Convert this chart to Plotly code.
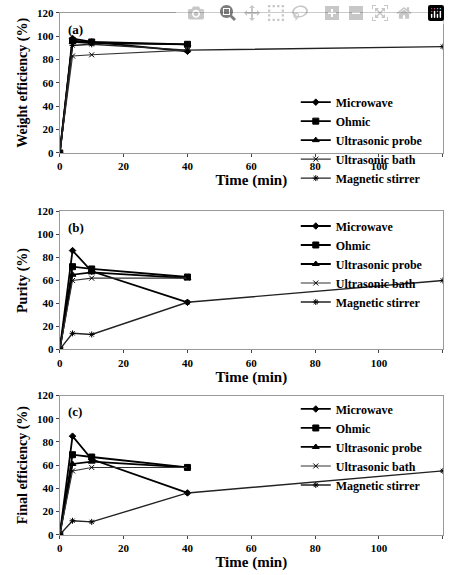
import plotly.graph_objects as go

# times (min)
t_short = [0, 4, 10, 40]
t_long = [0, 4, 10, 40, 120]

names = ["Microwave", "Ohmic", "Ultrasonic probe", "Ultrasonic bath", "Magnetic stirrer"]

# (a) weight efficiency
weight_microwave = [0, 98, 95, 87]
weight_ohmic = [0, 96, 95, 93]
weight_probe = [0, 95, 94, 93]
weight_bath = [0, 83, 84, 88]
weight_magnetic = [0, 92, 93, 88, 91]

# (b) purity
purity_microwave = [0, 86, 68, 41]
purity_ohmic = [0, 72, 70, 63]
purity_probe = [0, 65, 67, 62]
purity_bath = [0, 60, 62, 62]
purity_magnetic = [0, 14, 13, 41, 60]

# (c) final efficiency
final_microwave = [0, 85, 65, 36]
final_ohmic = [0, 69, 67, 58]
final_probe = [0, 61, 63, 58]
final_bath = [0, 55, 58, 58]
final_magnetic = [0, 12, 11, 36, 55]

panels = [
    ("(a)", "Weight efficiency (%)",
     [weight_microwave, weight_ohmic, weight_probe, weight_bath, weight_magnetic], [0.739, 0.988]),
    ("(b)", "Purity (%)",
     [purity_microwave, purity_ohmic, purity_probe, purity_bath, purity_magnetic], [0.390, 0.635]),
    ("(c)", "Final efficiency (%)",
     [final_microwave, final_ohmic, final_probe, final_bath, final_magnetic], [0.061, 0.308]),
]

symbols = ["diamond", "square", "triangle-up", "x-thin-open", "asterisk-open"]
sizes = [5, 6, 6, 5, 5]
widths = [1.8, 1.8, 1.8, 1.1, 1.4]
colors = ["black", "black", "black", "#333333", "#222222"]
legend_pos = [(0.655, 0.855), (0.655, 0.635), (0.655, 0.310)]

font = dict(family="Liberation Serif", color="black")
tickfont = dict(size=11, family="Liberation Serif", color="black", weight="bold")
fig = go.Figure()
layout = dict(width=450, height=575, margin=dict(l=0, r=0, t=0, b=0),
              paper_bgcolor="white", plot_bgcolor="white", font=font, annotations=[])

for p, (tag, ytitle, series, dom) in enumerate(panels):
    n = "" if p == 0 else str(p + 1)
    leg = "legend" + n
    for i, ys in enumerate(series):
        fig.add_trace(go.Scatter(
            x=t_long if len(ys) == 5 else t_short, y=ys, name=names[i],
            mode="lines+markers", xaxis="x" + n, yaxis="y" + n, legend=leg,
            line=dict(color=colors[i], width=widths[i]),
            marker=dict(symbol=symbols[i], size=sizes[i], color="black",
                        line=dict(color="black", width=1))))
    layout["xaxis" + n] = dict(domain=[0.127, 0.984], range=[0, 120], dtick=20,
                               anchor="y" + n, showgrid=False, showline=True, mirror=True,
                               linecolor="#999999", ticks="outside", ticklen=3,
                               tickfont=tickfont,
                               title=dict(text="<b>Time (min)</b>", standoff=2,
                                          font=dict(size=15, family="Liberation Serif")))
    layout["yaxis" + n] = dict(domain=dom, range=[0, 120], dtick=20, anchor="x" + n,
                               showgrid=False, showline=True, mirror=True,
                               linecolor="#999999", ticks="outside", ticklen=3,
                               tickfont=tickfont,
                               title=dict(text="<b>" + ytitle + "</b>", standoff=6,
                                          font=dict(size=14, family="Liberation Serif")))
    lx, ly = legend_pos[p]
    layout[leg] = dict(x=lx, y=ly, xanchor="left", yanchor="top", bgcolor="rgba(0,0,0,0)",
                       tracegroupgap=0, itemwidth=30,
                       font=dict(size=12, family="Liberation Serif", color="black", weight="bold"))
    layout["annotations"].append(dict(text="<b>" + tag + "</b>", x=0.14, y=dom[1] - 0.012,
                                      xref="paper", yref="paper", xanchor="left", yanchor="top",
                                      showarrow=False, font=dict(size=13)))

fig.update_layout(**layout)
fig.write_html("out.html", post_script="document.body.style.margin='0';document.body.style.overflow='hidden';")
